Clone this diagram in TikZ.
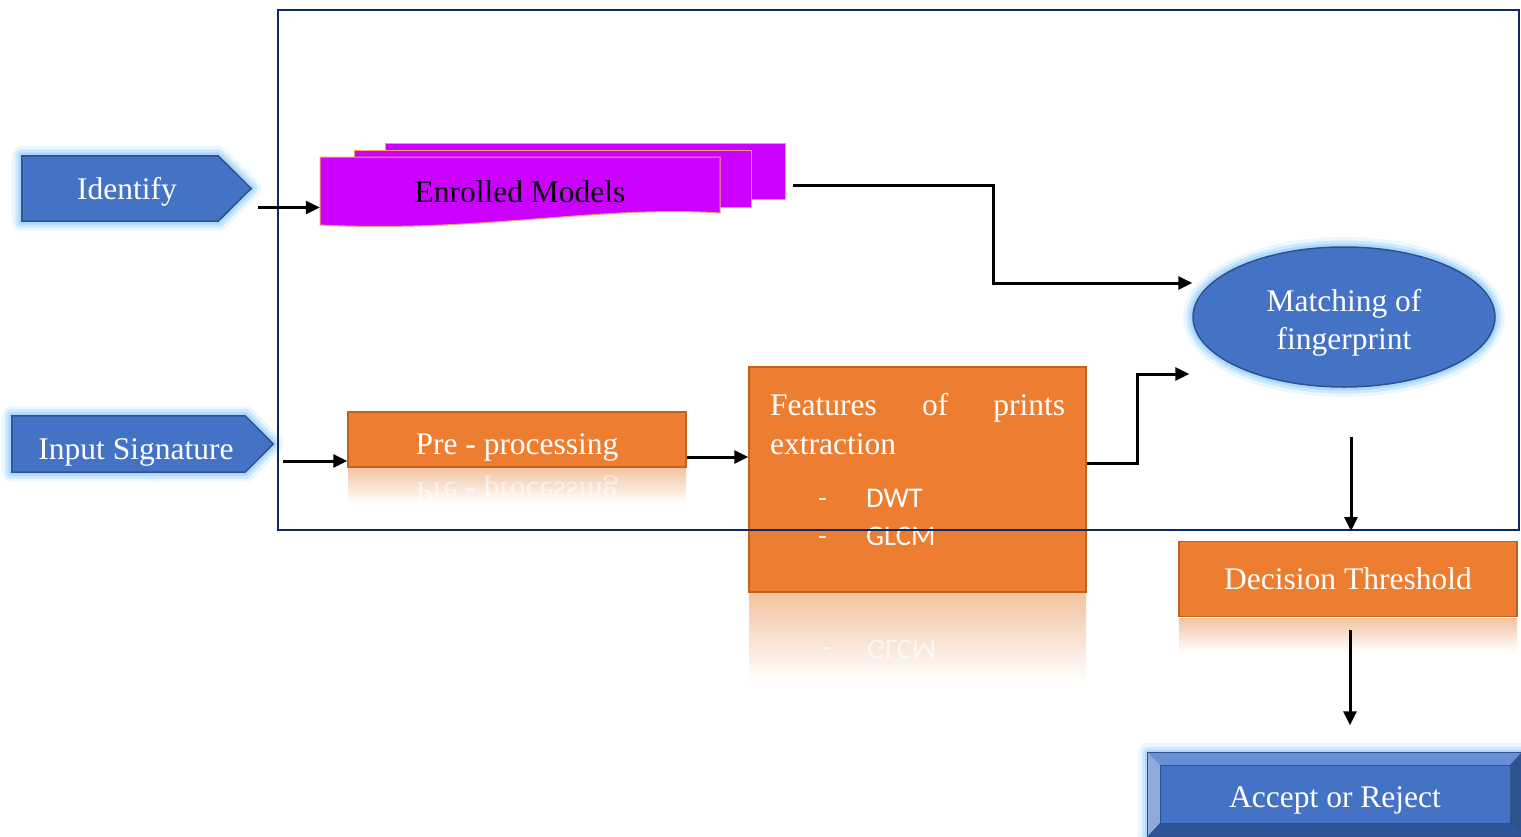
\documentclass[tikz,border=0pt]{standalone}
\usepackage{fontspec}
\setmainfont{Liberation Serif}
\newfontfamily\carl{Carlito}
\usetikzlibrary{shapes.geometric,arrows.meta}
\definecolor{bblue}{HTML}{4472C4}
\definecolor{bbord}{HTML}{2F528F}
\definecolor{org}{HTML}{ED7D31}
\definecolor{orgb}{HTML}{C0631F}
\definecolor{purp}{HTML}{CC00FF}
\definecolor{purpb}{HTML}{F4A460}
\definecolor{navy}{HTML}{0E2766}
\definecolor{glowc}{HTML}{9ED2FB}
\definecolor{reflc}{HTML}{F3C3A0}
\definecolor{bevtop}{HTML}{6B8FD6}
\definecolor{bevleft}{HTML}{8EA9DB}
\definecolor{bevbot}{HTML}{2E5597}
\definecolor{bevright}{HTML}{2F528F}
\begin{document}
\begin{tikzpicture}[x=1pt,y=-1pt,
  lbl/.style={text=white,font=\fontsize{31.5}{38}\selectfont,inner sep=0},
  sans/.style={text=white,font=\carl\fontsize{28.5}{34}\selectfont,inner sep=0},
  arr/.style={line width=3pt,-{Triangle[length=14pt,width=13pt]}},
  glow/.style={preaction={draw=glowc,line width=20pt,draw opacity=.2,line join=round},
               preaction={draw=glowc,line width=13pt,draw opacity=.4,line join=round},
               preaction={draw=glowc,line width=7pt,draw opacity=.7,line join=round}},
  bshape/.style={fill=bblue,draw=bbord,line width=1.5pt},
  obox/.style={fill=org,draw=orgb,line width=1.5pt,inner sep=0},
  page/.style={fill=purp,draw=purpb,line width=1pt},
  framest/.style={draw=navy,line width=2pt,inner sep=0}]
\useasboundingbox (0,0) rectangle (1521,836);

% Identify
\node[inner sep=0,minimum width=229pt,minimum height=65pt] (idf) at (136.5,188.5) {};
\draw[bshape,glow] (idf.north west) -- ([xshift=-33pt]idf.north east) -- (idf.east)
  -- ([xshift=-33pt]idf.south east) -- (idf.south west) -- cycle;
\node[lbl] (idft) at (127,192) {Identify};

% Input Signature
\node[inner sep=0,minimum width=261pt,minimum height=56pt] (ins) at (142.5,444) {};
\draw[bshape,glow] (ins.north west) -- ([xshift=-28pt]ins.north east) -- (ins.east)
  -- ([xshift=-28pt]ins.south east) -- (ins.south west) -- cycle;
\node[lbl] (inst) at (136,452) {Input Signature};

% Enrolled models (stack)
\draw[page] (385,143) rectangle (785,199);
\draw[page] (354,150) rectangle (751,207);
\draw[page] (320,157) -- (720,157) -- (720,213)
  .. controls (600,205) and (480,233) .. (320,225) -- cycle;
\node[inner sep=0,minimum width=400pt,minimum height=56pt] (em3) at (585,171) {};
\node[inner sep=0,minimum width=400pt,minimum height=68pt] (em1) at (520,191) {};
\node[inner sep=0,font=\fontsize{31.5}{38}\selectfont,text=black] (em1t) at (520,192) {Enrolled Models};

% Pre-processing
\shade[top color=reflc,bottom color=white] (348,468) rectangle (686,503);
\begin{scope}
\clip (348,468) rectangle (686,503);
\node[lbl,transform shape,yscale=-1,text opacity=.6] (prer) at (517,490) {Pre - processing};
\end{scope}
\node[obox,minimum width=338pt,minimum height=55pt] (pre) at (517,439.5) {};
\node[lbl] (pret) at (517,447) {Pre - processing};

% Features box
\shade[top color=reflc,bottom color=white] (749,593) rectangle (1086,682);
\begin{scope}
\clip (749,593) rectangle (1086,682);
\node[sans,transform shape,yscale=-1,anchor=base west,text opacity=.7] (fr1) at (822,640) {-};
\node[sans,transform shape,yscale=-1,anchor=base west,text opacity=.7] (fr2) at (867,640) {GLCM};
\end{scope}
\node[obox,minimum width=337pt,minimum height=225pt] (fe) at (917.5,479.5) {};
\node[lbl,anchor=base west] (ft1) at (770,415) {\makebox[295pt][s]{Features\hfill of\hfill prints}};
\node[lbl,anchor=base west] (ft2) at (770,454) {extraction};
\node[sans,anchor=base west] (ft3) at (818,507) {-};
\node[sans,anchor=base west] (ft4) at (866,507) {DWT};
\node[sans,anchor=base west] (ft5) at (818,545) {-};
\node[sans,anchor=base west] (ft6) at (866,545) {GLCM};

% Matching
\node[ellipse,bshape,glow,minimum width=302pt,minimum height=140pt,inner sep=0] (mf) at (1344,317) {};
\node[text=white,align=center,inner sep=0,font=\fontsize{31.5}{38}\selectfont] (mft) at (1344,323)
      {Matching of\\fingerprint};

% Decision threshold
\shade[top color=reflc,bottom color=white] (1179,618) rectangle (1517,652);
\node[obox,minimum width=338pt,minimum height=75pt] (dt) at (1348,579) {};
\node[lbl] (dtt) at (1348,579) {Decision Threshold};

% Accept or reject (bevel)
\node[inner sep=0,minimum width=373pt,minimum height=83pt,fill=bblue,glow] (acc) at (1334.5,794.5) {};
\fill[bevtop] (1148,753) -- (1521,753) -- (1510,765) -- (1160,765) -- cycle;
\fill[bevleft] (1148,753) -- (1160,765) -- (1160,823) -- (1148,836) -- cycle;
\fill[bevbot] (1148,836) -- (1160,823) -- (1510,823) -- (1521,836) -- cycle;
\fill[bevright] (1521,753) -- (1510,765) -- (1510,823) -- (1521,836) -- cycle;
\draw[bbord,line width=1.2pt] (acc.north west) rectangle (acc.south east);
\draw[bbord,line width=0.8pt] (1160,765) rectangle (1510,823);
\node[lbl] (acct) at (1335,800) {Accept or Reject};

% Frame
\node[framest,minimum width=1241pt,minimum height=520pt] (fr) at (898.5,270) {};

% Connectors
\draw[arr] ([xshift=7pt,yshift=-19pt]idf.east) coordinate (a1) -- (em1.west |- a1);
\draw[arr] ([xshift=8pt,yshift=-14pt]em3.east) coordinate (a2) -- ++(200,0)
  |- ([yshift=34pt]mf.west);
\draw[arr] ([xshift=10pt,yshift=-17pt]ins.east) coordinate (a3) -- (pre.west |- a3);
\draw[arr] ([yshift=-17.5pt]pre.east) coordinate (a4) -- (fe.west |- a4);
\draw[arr] ([yshift=16.5pt]fe.east) coordinate (a5) -- ++(51,0)
  |- ([xshift=-3pt,yshift=-57pt]mf.west);
\draw[arr] ([xshift=7pt,yshift=-49pt]mf.south) coordinate (a6) -- (a6 |- fr.south);
\draw[arr] ([xshift=2pt,yshift=-13pt]dt.south) coordinate (a7) -- ++(0,95);
\end{tikzpicture}
\end{document}
